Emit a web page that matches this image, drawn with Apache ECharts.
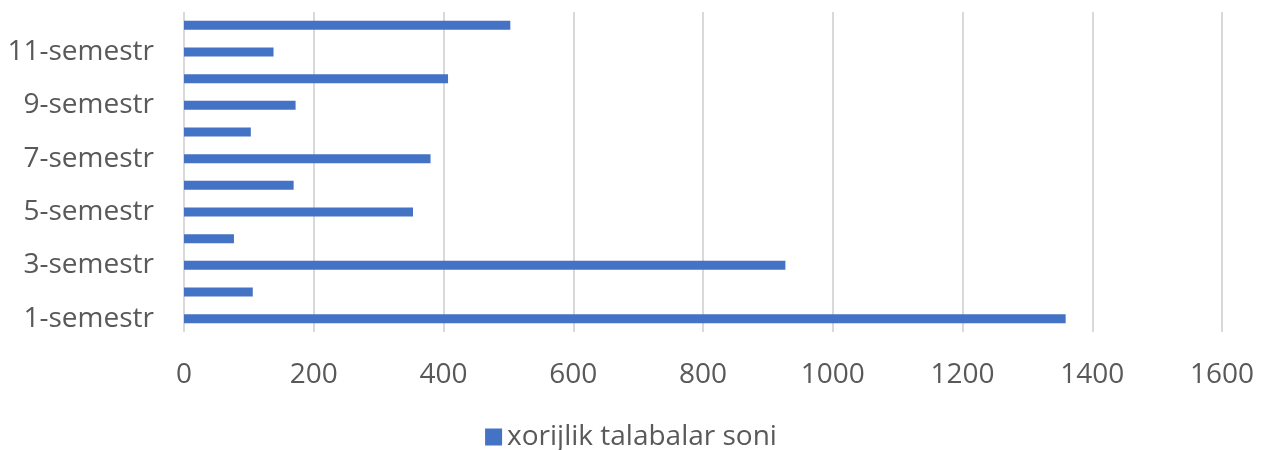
<!DOCTYPE html>
<html>
<head>
<meta charset="utf-8">
<script src="https://cdn.jsdelivr.net/npm/echarts@6/dist/echarts.min.js"></script>
<style>html,body{margin:0;padding:0;background:#fff}#c{width:1262px;height:450px}</style>
</head>
<body>
<div id="c"></div>
<script>
const categories = ['1-semestr','2-semestr','3-semestr','4-semestr','5-semestr','6-semestr','7-semestr','8-semestr','9-semestr','10-semestr','11-semestr','12-semestr'];
const values = [1359, 106, 927, 77, 353, 169, 380, 103, 172, 407, 138, 503];
const seriesName = 'xorijlik talabalar soni';
const xTicks = {min: 0, max: 1600, interval: 200};

const font = "'Open Sans', 'Noto Sans', sans-serif";
const fs = 28;
const chart = echarts.init(document.getElementById('c'), null, {renderer: 'canvas'});
chart.setOption({
  animation: false,
  backgroundColor: '#ffffff',
  grid: {left: 184, right: 40, top: 12, bottom: 118, containLabel: false},
  legend: {
    top: 418, left: 'center',
    itemWidth: 17, itemHeight: 17, itemGap: 8,
    icon: 'rect',
    textStyle: {color: '#595959', fontSize: fs, fontFamily: font},
    data: [seriesName]
  },
  xAxis: {
    type: 'value', min: xTicks.min, max: xTicks.max, interval: xTicks.interval,
    axisLine: {show: false}, axisTick: {show: false},
    axisLabel: {color: '#595959', fontSize: fs, fontFamily: font, margin: 29, formatter: v => String(v)},
    splitLine: {show: true, lineStyle: {color: '#D9D9D9', width: 2}}
  },
  yAxis: {
    type: 'category', data: categories,
    axisLine: {show: false}, axisTick: {show: false},
    axisLabel: {color: '#595959', fontSize: fs, fontFamily: font, margin: 30, interval: 1}
  },
  series: [{
    name: seriesName, type: 'bar', data: values,
    barWidth: 9,
    itemStyle: {color: '#4472C4'}
  }]
});
</script>
</body>
</html>
